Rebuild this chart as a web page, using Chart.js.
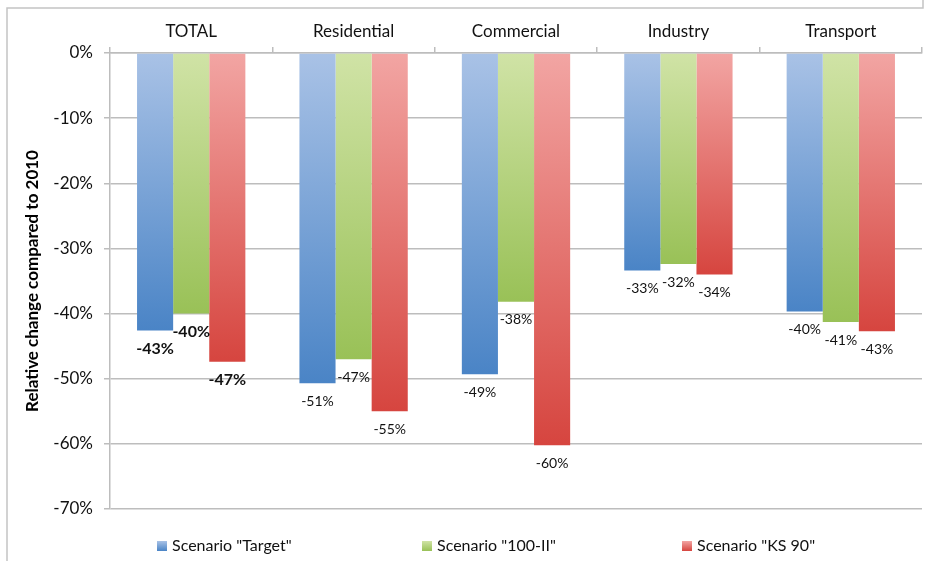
<!DOCTYPE html>
<html>
<head>
<meta charset="utf-8">
<script src="https://cdn.jsdelivr.net/npm/chart.js@4/dist/chart.umd.min.js"></script>
<style>
  html, body { margin: 0; padding: 0; background: #fff; }
  #wrap { width: 929px; height: 565px; position: relative; }
</style>
</head>
<body>
<div id="wrap"><canvas id="myChart"></canvas></div>
<script>
// values (percent change vs 2010)
const categories = ['TOTAL', 'Residential', 'Commercial', 'Industry', 'Transport'];
const seriesNames = ['Scenario "Target"', 'Scenario "100-II"', 'Scenario "KS 90"'];
const targetValues = [-42.6, -50.7, -49.3, -33.4, -39.7];
const scen100Values = [-40.0, -47.0, -38.2, -32.4, -41.3];
const ks90Values = [-47.4, -55.0, -60.2, -34.0, -42.7];
const yMin = -70, yMax = 0, yStep = 10;

const fills = [
  ['#a9c2e6', '#4a84c6'],
  ['#d0e3a6', '#99c157'],
  ['#f2a5a3', '#d6453f']
];
const FONT = 'Lato, "Open Sans", sans-serif';

function barFill(top, bottom) {
  return function (c) {
    const chart = c.chart;
    const y = chart.scales.y;
    if (!chart.chartArea || !y || c.type !== 'data') return bottom;
    const y0 = y.getPixelForValue(0);
    const y1 = y.getPixelForValue(c.parsed.y);
    if (!isFinite(y0) || !isFinite(y1) || y0 === y1) return bottom;
    const g = chart.ctx.createLinearGradient(0, y0, 0, y1);
    g.addColorStop(0, top);
    g.addColorStop(1, bottom);
    return g;
  };
}

// white page + thin frame like the original export
const frame = {
  id: 'frame',
  beforeDraw(chart) {
    const ctx = chart.ctx;
    ctx.save();
    ctx.fillStyle = '#fff';
    ctx.fillRect(0, 0, chart.width, chart.height);
    ctx.strokeStyle = '#c4c4c4';
    ctx.lineWidth = 1.5;
    ctx.beginPath();
    ctx.moveTo(7, 561);
    ctx.lineTo(7, 8);
    ctx.lineTo(923, 8);
    ctx.lineTo(923, 0);
    ctx.stroke();
    ctx.restore();
  }
};

// value labels under each bar
const valueLabels = {
  id: 'valueLabels',
  afterDatasetsDraw(chart) {
    const ctx = chart.ctx;
    chart.data.datasets.forEach((ds, di) => {
      const meta = chart.getDatasetMeta(di);
      meta.data.forEach((bar, i) => {
        const bold = i === 0;
        ctx.save();
        ctx.font = (bold ? 'bold 16px ' : '14px ') + FONT;
        ctx.fillStyle = '#111';
        ctx.textAlign = 'center';
        ctx.textBaseline = 'middle';
        ctx.fillText(Math.round(ds.data[i]) + '%', bar.x, bar.y + 18);
        ctx.restore();
      });
    });
  }
};

// spread-out legend row at the bottom
const legendRow = {
  id: 'legendRow',
  afterDraw(chart) {
    const ctx = chart.ctx;
    const xs = [157, 422, 682];
    const yc = 546;
    chart.data.datasets.forEach((ds, i) => {
      ctx.save();
      const g = ctx.createLinearGradient(0, yc - 5, 0, yc + 5);
      g.addColorStop(0, fills[i][0]);
      g.addColorStop(1, fills[i][1]);
      ctx.fillStyle = g;
      ctx.fillRect(xs[i], yc - 5, 10, 10);
      ctx.font = '16px ' + FONT;
      ctx.fillStyle = '#111';
      ctx.textAlign = 'left';
      ctx.textBaseline = 'middle';
      ctx.fillText(ds.label, xs[i] + 15, yc);
      ctx.restore();
    });
  }
};

const seriesValues = [targetValues, scen100Values, ks90Values];

new Chart(document.getElementById('myChart'), {
  type: 'bar',
  data: {
    labels: categories,
    datasets: seriesValues.map((vals, i) => ({
      label: seriesNames[i],
      data: vals,
      backgroundColor: barFill(fills[i][0], fills[i][1]),
      borderWidth: 0,
      categoryPercentage: 0.667,
      barPercentage: 1.0
    }))
  },
  options: {
    responsive: true,
    maintainAspectRatio: false,
    animation: false,
    layout: { padding: { top: 10, bottom: 56, left: 0, right: 7 } },
    plugins: {
      legend: { display: false },
      tooltip: { enabled: false }
    },
    scales: {
      x: {
        position: 'top',
        grid: { display: true, drawOnChartArea: false, drawTicks: true, tickLength: 6, color: '#bdbdbd', lineWidth: 1.5 },
        border: { display: true, color: '#bdbdbd', width: 1.5 },
        ticks: { color: '#111', padding: 5, font: { family: FONT, size: 17 } },
        afterFit(scale) { scale.height = 43; }
      },
      y: {
        min: yMin,
        max: yMax,
        ticks: {
          stepSize: yStep,
          color: '#111',
          padding: 11,
          font: { family: FONT, size: 17 },
          callback: v => v + '%'
        },
        grid: { color: '#bdbdbd', lineWidth: 1.5, tickLength: 6 },
        border: { display: true, color: '#bdbdbd', width: 1.5 },
        title: {
          display: true,
          text: 'Relative change compared to 2010',
          color: '#000',
          font: { family: FONT, size: 17, weight: 'bold' },
          padding: { top: 22, bottom: 0 }
        },
        afterFit(scale) { scale.width = 110; }
      }
    }
  },
  plugins: [frame, valueLabels, legendRow]
});
</script>
</body>
</html>
